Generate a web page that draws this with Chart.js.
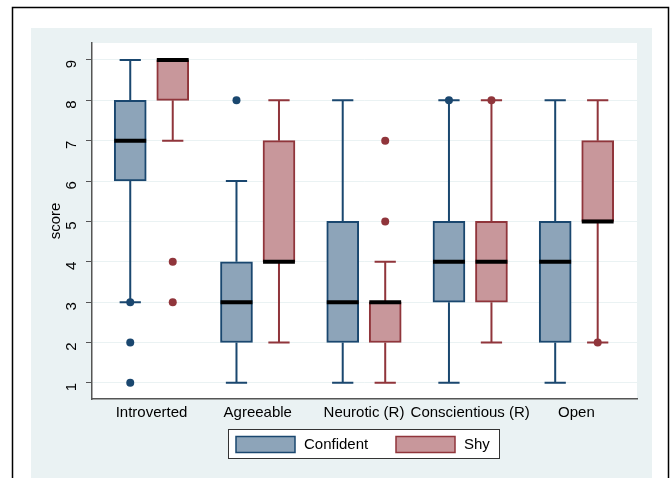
<!DOCTYPE html>
<html>
<head>
<meta charset="utf-8">
<script src="https://cdn.jsdelivr.net/npm/chart.js@4.4.1/dist/chart.umd.min.js"></script>
<style>
  html, body { margin: 0; padding: 0; background: #ffffff; }
  canvas { display: block; }
</style>
</head>
<body>
<canvas id="c" width="670" height="478"></canvas>
<script>
// ---- data ----
const categories = ['Introverted', 'Agreeable', 'Neurotic (R)', 'Conscientious (R)', 'Open'];
const seriesNames = ['Confident', 'Shy'];

const confMin = [3, 1, 1, 1, 1];
const confQ1  = [6, 2, 2, 3, 2];
const confMed = [7, 3, 3, 4, 4];
const confQ3  = [8, 4, 5, 5, 5];
const confMax = [9, 6, 8, 8, 8];
const confOutliers = [[3, 2, 1], [8], [], [8], []];

const shyMin = [7, 2, 1, 2, 2];
const shyQ1  = [8, 4, 2, 3, 5];
const shyMed = [9, 4, 3, 4, 5];
const shyQ3  = [9, 7, 3, 5, 7];
const shyMax = [9, 8, 4, 8, 8];
const shyOutliers = [[4, 3], [], [5, 7], [8], [2]];

const yTicks = [1, 2, 3, 4, 5, 6, 7, 8, 9];

// ---- styles ----
const NAVY = '#1a476f', NAVY_FILL = '#8da4b9';
const MAROON = '#90353b', MAROON_FILL = '#c8979b';
const BG = '#eaf2f3';
const OFFSET = 0.2, MED_HALF = 0.15, CAP_HALF = 0.1;
const FONT = '"Liberation Sans", Arial, sans-serif';

function boxData(q1, q3, off) {
  return q1.map((v, i) => ({ x: i + off, y: [v, q3[i]] }));
}
function whiskerData(mn, q1, q3, mx, off) {
  const pts = [];
  const gap = (x) => pts.push({ x: x, y: null });
  mn.forEach((lo, i) => {
    const x = i + off;
    if (mx[i] > q3[i]) {
      pts.push({ x: x, y: q3[i] }, { x: x, y: mx[i] }); gap(x);
      pts.push({ x: x - CAP_HALF, y: mx[i] }, { x: x + CAP_HALF, y: mx[i] }); gap(x);
    }
    if (lo < q1[i]) {
      pts.push({ x: x, y: q1[i] }, { x: x, y: lo }); gap(x);
      pts.push({ x: x - CAP_HALF, y: lo }, { x: x + CAP_HALF, y: lo }); gap(x);
    }
  });
  return pts;
}
function medianData(med, off) {
  const pts = [];
  med.forEach((m, i) => {
    const x = i + off;
    pts.push({ x: x - MED_HALF, y: m }, { x: x + MED_HALF, y: m }, { x: x, y: null });
  });
  return pts;
}
function outlierData(outs, off) {
  const pts = [];
  outs.forEach((list, i) => list.forEach(v => pts.push({ x: i + off, y: v })));
  return pts;
}

const datasets = [
  { type: 'bar', label: seriesNames[0], data: boxData(confQ1, confQ3, -OFFSET),
    backgroundColor: NAVY_FILL, borderColor: NAVY, borderWidth: 2, borderSkipped: false,
    barThickness: 32, grouped: false, order: 5 },
  { type: 'bar', label: seriesNames[1], data: boxData(shyQ1, shyQ3, OFFSET),
    backgroundColor: MAROON_FILL, borderColor: MAROON, borderWidth: 2, borderSkipped: false,
    barThickness: 32, grouped: false, order: 5 },
  { type: 'line', label: 'w1', data: whiskerData(confMin, confQ1, confQ3, confMax, -OFFSET),
    borderColor: NAVY, borderWidth: 2, pointRadius: 0, spanGaps: false, fill: false, order: 6 },
  { type: 'line', label: 'w2', data: whiskerData(shyMin, shyQ1, shyQ3, shyMax, OFFSET),
    borderColor: MAROON, borderWidth: 2, pointRadius: 0, spanGaps: false, fill: false, order: 6 },
  { type: 'line', label: 'm1', data: medianData(confMed, -OFFSET),
    borderColor: '#000000', borderWidth: 4, pointRadius: 0, spanGaps: false, fill: false, borderCapStyle: 'butt', order: 2 },
  { type: 'line', label: 'm2', data: medianData(shyMed, OFFSET),
    borderColor: '#000000', borderWidth: 4, pointRadius: 0, spanGaps: false, fill: false, borderCapStyle: 'butt', order: 2 },
  { type: 'scatter', label: 'o1', data: outlierData(confOutliers, -OFFSET),
    backgroundColor: NAVY, borderColor: NAVY, pointRadius: 4, borderWidth: 0, order: 1 },
  { type: 'scatter', label: 'o2', data: outlierData(shyOutliers, OFFSET),
    backgroundColor: MAROON, borderColor: MAROON, pointRadius: 4, borderWidth: 0, order: 1 }
];

const backgroundPlugin = {
  id: 'stataBackground',
  beforeDraw(chart) {
    const ctx = chart.ctx, a = chart.chartArea;
    ctx.save();
    ctx.fillStyle = '#ffffff';
    ctx.fillRect(0, 0, chart.width, chart.height);
    ctx.fillStyle = BG;
    ctx.fillRect(31, 28, 621, chart.height - 28);
    ctx.strokeStyle = '#000000';
    ctx.lineWidth = 1.5;
    ctx.beginPath();
    ctx.moveTo(12.5, chart.height + 2);
    ctx.lineTo(12.5, 7.5);
    ctx.lineTo(668.5, 7.5);
    ctx.lineTo(668.5, chart.height + 2);
    ctx.stroke();
    ctx.fillStyle = '#ffffff';
    ctx.fillRect(a.left, a.top, a.right - a.left, a.bottom - a.top);
    ctx.restore();
  }
};

const legendPlugin = {
  id: 'stataLegend',
  afterDraw(chart) {
    const ctx = chart.ctx;
    const items = [
      { text: seriesNames[0], fill: NAVY_FILL, line: NAVY, x: 236 },
      { text: seriesNames[1], fill: MAROON_FILL, line: MAROON, x: 396 }
    ];
    ctx.save();
    ctx.fillStyle = '#ffffff';
    ctx.fillRect(228.5, 429.5, 271, 29);
    ctx.strokeStyle = '#333333';
    ctx.lineWidth = 1;
    ctx.strokeRect(228.5, 429.5, 271, 29);
    ctx.font = '15px ' + FONT;
    ctx.textBaseline = 'middle';
    ctx.textAlign = 'left';
    items.forEach(it => {
      ctx.fillStyle = it.fill;
      ctx.fillRect(it.x, 436.5, 59, 16);
      ctx.strokeStyle = it.line;
      ctx.lineWidth = 1.5;
      ctx.strokeRect(it.x, 436.5, 59, 16);
      ctx.fillStyle = '#000000';
      ctx.fillText(it.text, it.x + 68, 445);
    });
    ctx.restore();
  }
};

new Chart(document.getElementById('c'), {
  data: { datasets: datasets },
  options: {
    responsive: false,
    animation: false,
    events: [],
    layout: { padding: { left: 0, top: 43, right: 33, bottom: 49 } },
    plugins: { legend: { display: false }, tooltip: { enabled: false } },
    scales: {
      x: {
        type: 'linear',
        offset: false,
        min: -0.56, max: 4.57,
        afterBuildTicks: (s) => { s.ticks = categories.map((_, i) => ({ value: i })); },
        afterFit: (s) => { s.height = 30; },
        grid: { display: false, drawTicks: false, offset: false },
        border: { display: true, color: '#555555', width: 1.5 },
        ticks: {
          autoSkip: false, maxRotation: 0, minRotation: 0, padding: 5,
          color: '#000000',
          font: { family: FONT, size: 15 },
          callback: (v) => categories[v] !== undefined ? categories[v] : ''
        }
      },
      y: {
        type: 'linear',
        min: 0.6, max: 9.42,
        afterBuildTicks: (s) => { s.ticks = yTicks.map(v => ({ value: v })); },
        afterFit: (s) => { s.width = 92; },
        grid: { color: BG, lineWidth: 1, drawTicks: true, tickLength: 6, tickColor: '#555555' },
        border: { display: true, color: '#555555', width: 1.5 },
        title: {
          display: true, text: 'score', color: '#000000',
          font: { family: FONT, size: 15 },
          padding: { top: 47, bottom: 0 }
        },
        ticks: {
          minRotation: 90, maxRotation: 90, padding: 14,
          color: '#000000',
          font: { family: FONT, size: 15 }
        }
      }
    }
  },
  plugins: [backgroundPlugin, legendPlugin]
});
</script>
</body>
</html>
